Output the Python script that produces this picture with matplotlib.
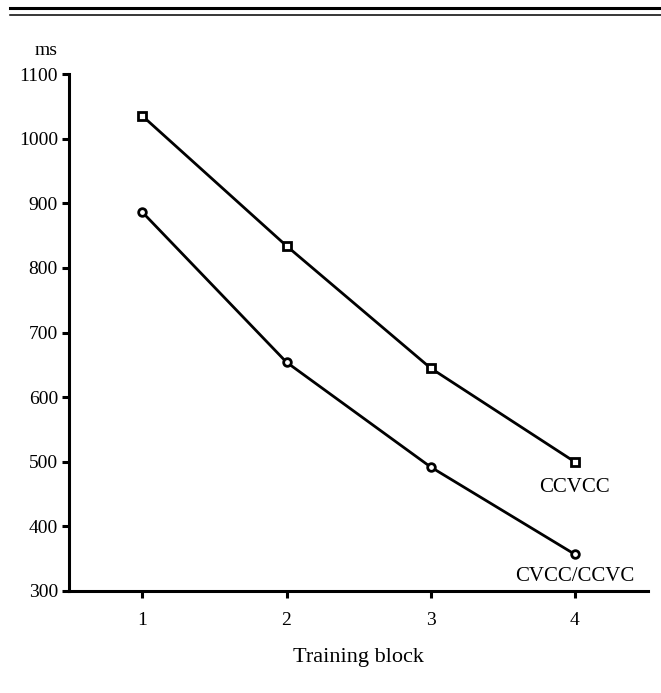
"""Response time across training blocks for two syllable structures."""

import matplotlib.pyplot as plt
from matplotlib.lines import Line2D

plt.rcParams["font.family"] = ["Liberation Serif", "DejaVu Serif"]

blocks = [1, 2, 3, 4]
ccvcc_ms = [1035, 834, 645, 500]
cvcc_ccvc_ms = [886, 654, 492, 357]
y_ticks = [300, 400, 500, 600, 700, 800, 900, 1000, 1100]

fig = plt.figure(figsize=(6.61, 6.93), dpi=100)
ax = fig.add_axes([0.1044, 0.1472, 0.8760, 0.7460])

line_kw = dict(color="black", lw=2, mfc="white", mec="black", mew=2, clip_on=False)
ax.plot(blocks, ccvcc_ms, marker="s", ms=5.5, **line_kw)
ax.plot(blocks, cvcc_ccvc_ms, marker="o", ms=5.5, **line_kw)

ax.set_xlim(0.49, 4.51)
ax.set_ylim(300, 1100)
ax.set_xticks(blocks)
ax.set_yticks(y_ticks)
for side in ("top", "right"):
    ax.spines[side].set_visible(False)
for side in ("left", "bottom"):
    ax.spines[side].set_linewidth(2.2)
ax.tick_params(axis="both", direction="out", width=2.2, length=5, labelsize=14, pad=3)
ax.tick_params(axis="x", pad=10)

ax.set_xlabel("Training block", fontsize=16, labelpad=14)
ax.text(-0.04, 1.03, "ms", transform=ax.transAxes, fontsize=14, ha="center", va="bottom")

# series labels beside the last points
ax.annotate("CCVCC", (blocks[-1], ccvcc_ms[-1]), xytext=(0, -12), textcoords="offset points",
            ha="center", va="top", fontsize=15)
ax.annotate("CVCC/CCVC", (blocks[-1], cvcc_ccvc_ms[-1]), xytext=(0, -9), textcoords="offset points",
            ha="center", va="top", fontsize=15)

# double rule across the top of the page
fig.add_artist(Line2D([10 / 661, 1], [1 - 7.5 / 693] * 2, color="black", lw=2.2))
fig.add_artist(Line2D([10 / 661, 1], [1 - 15 / 693] * 2, color="black", lw=1.1))

fig.savefig("out.png", dpi=100)
